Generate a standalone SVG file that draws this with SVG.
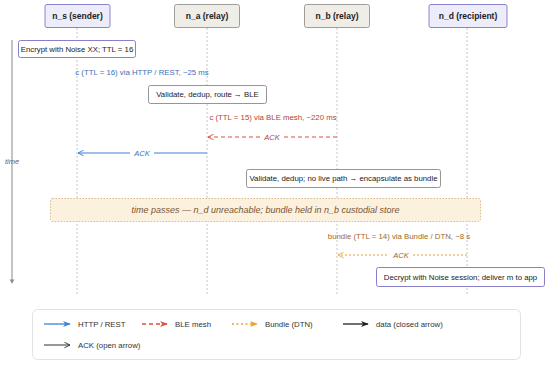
<svg xmlns="http://www.w3.org/2000/svg" width="550" height="365" viewBox="0 0 550 365">
<style>
text{font-family:"Liberation Sans",Arial,sans-serif;}
.hdr{font-size:8.5px;font-weight:bold;fill:#222;text-anchor:middle;}
.hp{fill:#ececfb;stroke:#8a84cc;stroke-width:1;}
.hg{fill:#efede8;stroke:#a19d94;stroke-width:1;}
.life{stroke:#c4c4c4;stroke-width:1;stroke-dasharray:2 2;}
.note{fill:#fff;stroke:#8a8a8a;stroke-width:0.9;}
.notep{fill:#fff;stroke:#7d72c4;stroke-width:0.9;}
.nt{font-size:7.8px;fill:#222;text-anchor:middle;}
.lbl{font-size:7.8px;text-anchor:middle;}
.ack{font-size:7.5px;font-style:italic;text-anchor:middle;}
.leg{font-size:7.8px;fill:#333;}
</style>
<defs>
<marker id="openBlue" viewBox="0 0 10 10" refX="9" refY="5" markerWidth="7" markerHeight="7" orient="auto-start-reverse" markerUnits="userSpaceOnUse"><path d="M1,1 L9,5 L1,9" fill="none" stroke="#3d82d6" stroke-width="1.3"/></marker>
<marker id="openRed" viewBox="0 0 10 10" refX="9" refY="5" markerWidth="7" markerHeight="7" orient="auto-start-reverse" markerUnits="userSpaceOnUse"><path d="M1,1 L9,5 L1,9" fill="none" stroke="#d9533b" stroke-width="1.3"/></marker>
<marker id="openOr" viewBox="0 0 10 10" refX="9" refY="5" markerWidth="7" markerHeight="7" orient="auto-start-reverse" markerUnits="userSpaceOnUse"><path d="M1,1 L9,5 L1,9" fill="none" stroke="#e8a238" stroke-width="1.3"/></marker>
<marker id="openBlk" viewBox="0 0 10 10" refX="9" refY="5" markerWidth="7" markerHeight="7" orient="auto" markerUnits="userSpaceOnUse"><path d="M1,1 L9,5 L1,9" fill="none" stroke="#333" stroke-width="1.3"/></marker>
<marker id="fBlue" viewBox="0 0 10 10" refX="9" refY="5" markerWidth="8" markerHeight="8" orient="auto" markerUnits="userSpaceOnUse"><path d="M0,1 L10,5 L0,9 L3,5 Z" fill="#3d82d6"/></marker>
<marker id="fRed" viewBox="0 0 10 10" refX="9" refY="5" markerWidth="8" markerHeight="8" orient="auto" markerUnits="userSpaceOnUse"><path d="M0,1 L10,5 L0,9 L3,5 Z" fill="#d9533b"/></marker>
<marker id="fOr" viewBox="0 0 10 10" refX="9" refY="5" markerWidth="8" markerHeight="8" orient="auto" markerUnits="userSpaceOnUse"><path d="M0,1 L10,5 L0,9 L3,5 Z" fill="#e8a238"/></marker>
<marker id="fBlk" viewBox="0 0 10 10" refX="9" refY="5" markerWidth="8" markerHeight="8" orient="auto" markerUnits="userSpaceOnUse"><path d="M0,1 L10,5 L0,9 L3,5 Z" fill="#222"/></marker>
<marker id="tGray" viewBox="0 0 10 10" refX="5" refY="8" markerWidth="6" markerHeight="6" orient="0" markerUnits="userSpaceOnUse"><path d="M1,2 L9,2 L5,9 Z" fill="#8c8c8c"/></marker>
</defs>
<rect width="550" height="365" fill="#fff"/>

<!-- time axis -->
<g id="time-axis">
<line x1="12" y1="40" x2="12" y2="283" stroke="#b0b0b0" stroke-width="1.5" marker-end="url(#tGray)"/>
<text x="12" y="164" font-size="7.5" font-style="italic" fill="#666" text-anchor="middle">time</text>
</g>

<!-- lifelines -->
<g id="lifelines">
<line class="life" x1="77" y1="28" x2="77" y2="294"/>
<line class="life" x1="207" y1="28" x2="207" y2="294"/>
<line class="life" x1="337" y1="28" x2="337" y2="294"/>
<line class="life" x1="467" y1="28" x2="467" y2="294"/>
</g>

<g id="n_s"><rect class="hp" x="45" y="4.5" width="65" height="23" rx="2"/><text class="hdr" x="77.5" y="19">n_s (sender)</text></g>
<g id="n_a"><rect class="hg" x="174.5" y="4.5" width="65" height="23" rx="2"/><text class="hdr" x="207" y="19">n_a (relay)</text></g>
<g id="n_b"><rect class="hg" x="304.5" y="4.5" width="65" height="23" rx="2"/><text class="hdr" x="337" y="19">n_b (relay)</text></g>
<g id="n_d"><rect class="hp" x="429" y="4.5" width="78" height="23" rx="2"/><text class="hdr" x="468" y="19">n_d (recipient)</text></g>

<g id="note-encrypt"><rect class="notep" x="18.5" y="40.5" width="117" height="17" rx="2"/><text class="nt" x="77" y="51.5">Encrypt with Noise XX; TTL = 16</text></g>
<g id="note-validate-a"><rect class="note" x="148.5" y="85.5" width="118" height="18" rx="2"/><text class="nt" x="207.5" y="97">Validate, dedup, route → BLE</text></g>
<g id="note-validate-b"><rect class="note" x="246.5" y="169.5" width="194" height="18" rx="2"/><text class="nt" x="343.5" y="181">Validate, dedup; no live path → encapsulate as bundle</text></g>
<g id="note-decrypt"><rect class="notep" x="376.5" y="267.5" width="168" height="19" rx="2"/><text class="nt" x="460.5" y="279.5">Decrypt with Noise session; deliver m to app</text></g>

<g id="band-time-passes">
<rect x="50.5" y="198.5" width="430" height="23" rx="2" fill="#fcf0de" stroke="#d8b57e" stroke-width="0.9" stroke-dasharray="1.5 1.5"/>
<text x="265.5" y="213" font-size="9" font-style="italic" fill="#7a5530" text-anchor="middle">time passes — n_d unreachable; bundle held in n_b custodial store</text>
</g>

<g id="connectors">
<text class="lbl" x="142" y="75" fill="#3a72b8">c (TTL = 16) via HTTP / REST, ~25 ms</text>
<text class="lbl" x="273" y="120" fill="#b4452d">c (TTL = 15) via BLE mesh, ~220 ms</text>
<line x1="337" y1="137" x2="208" y2="137" stroke="#d9533b" stroke-width="1.1" stroke-dasharray="4 3" marker-end="url(#openRed)"/>
<rect x="260" y="132" width="24" height="9" fill="#fff"/>
<text class="ack" x="272" y="140" fill="#b4452d">ACK</text>
<line x1="207" y1="153" x2="78" y2="153" stroke="#3d82d6" stroke-width="1.1" marker-end="url(#openBlue)"/>
<rect x="130" y="148" width="24" height="9" fill="#fff"/>
<text class="ack" x="142" y="156" fill="#3a72b8">ACK</text>
<text class="lbl" x="399" y="239" fill="#a2661f">bundle (TTL = 14) via Bundle / DTN, ~8 s</text>
<line x1="467" y1="255" x2="338" y2="255" stroke="#e8a238" stroke-width="1.1" stroke-dasharray="2 2" marker-end="url(#openOr)"/>
<rect x="389" y="250" width="24" height="9" fill="#fff"/>
<text class="ack" x="401" y="258" fill="#8a6a3a">ACK</text>
</g>

<g id="legend">
<rect x="32.5" y="309.5" width="488" height="50" rx="5" fill="#fff" stroke="#e2e2e2" stroke-width="1"/>
<line x1="44" y1="324" x2="70" y2="324" stroke="#3d82d6" stroke-width="1.3" marker-end="url(#fBlue)"/>
<text class="leg" x="78" y="327">HTTP / REST</text>
<line x1="142" y1="324" x2="167" y2="324" stroke="#d9533b" stroke-width="1.3" stroke-dasharray="4 3" marker-end="url(#fRed)"/>
<text class="leg" x="175" y="327">BLE mesh</text>
<line x1="232" y1="324" x2="257" y2="324" stroke="#e8a238" stroke-width="1.3" stroke-dasharray="2 2.5" marker-end="url(#fOr)"/>
<text class="leg" x="265" y="327">Bundle (DTN)</text>
<line x1="343" y1="324" x2="368" y2="324" stroke="#222" stroke-width="1.3" marker-end="url(#fBlk)"/>
<text class="leg" x="376" y="327">data (closed arrow)</text>
<line x1="44" y1="345" x2="70" y2="345" stroke="#333" stroke-width="1" marker-end="url(#openBlk)"/>
<text class="leg" x="78" y="348">ACK (open arrow)</text>
</g>
</svg>
